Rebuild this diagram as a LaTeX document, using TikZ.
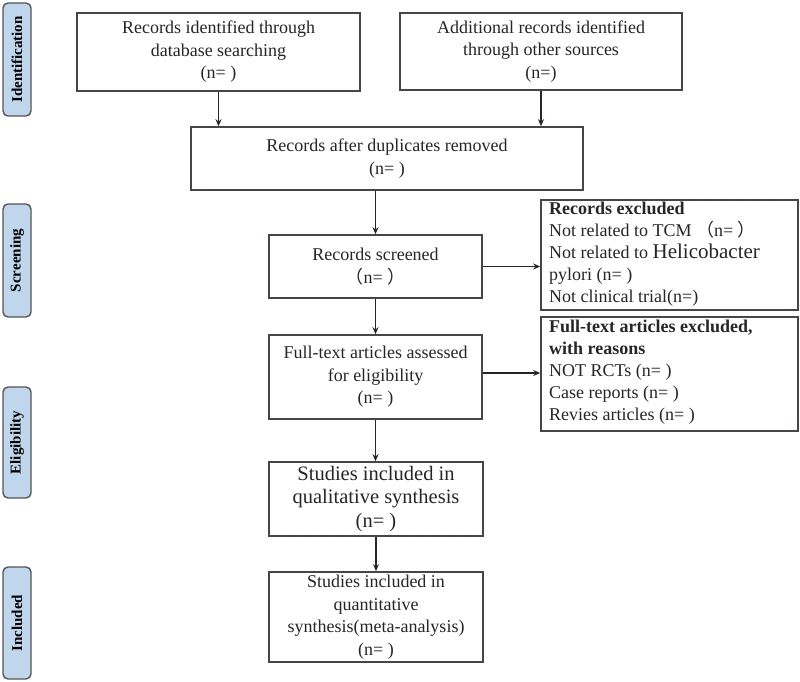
\documentclass[tikz,border=0pt]{standalone}
\usepackage{fontspec}
\setmainfont{Liberation Serif}
\newfontfamily\cjk{Noto Sans CJK SC}
\usetikzlibrary{arrows.meta}
\definecolor{boxline}{HTML}{4A4443}
\definecolor{sidefill}{HTML}{BFD6EC}
\definecolor{sideline}{HTML}{555555}
\tikzset{
  x=1pt,y=1pt,
  box/.style={draw=boxline, line width=1.6pt, fill=white, align=center, inner sep=2pt,
    font=\fontsize{18}{22.5}\selectfont, text=black!85},
  side/.style={draw=sideline, line width=1.4pt, fill=sidefill, rounded corners=5pt,
    rotate=90, font=\fontsize{15}{16}\selectfont\bfseries, inner sep=0pt},
  arr/.style={-{Stealth[length=7pt,width=6pt]}, line width=1.6pt, draw=black!85},
  extext/.style={anchor=north west, align=left, inner sep=0pt, text=black!85,
    font=\fontsize{18}{22}\selectfont},
}
\newcommand{\lp}{{\cjk （}}
\newcommand{\rp}{{\cjk ）}}
\begin{document}
\begin{tikzpicture}
\useasboundingbox (0,0) rectangle (800,-682);
% side labels
\node[side, minimum width=113pt, minimum height=28pt] (sid) at (17,-59.5) {Identification};
\node[side, minimum width=113pt, minimum height=28pt] (ssc) at (17,-260.5) {Screening};
\node[side, minimum width=111pt, minimum height=28pt] (sel) at (17,-442.5) {Eligibility};
\node[side, minimum width=112pt, minimum height=28pt] (sin) at (17,-623) {Included};
% main boxes
\node[box, minimum width=283pt, minimum height=78pt] (b1) at (218.5,-52)
  {Records identified through\\database searching\\(n= )};
\node[box, minimum width=282pt, minimum height=77pt] (b2) at (541,-51.5)
  {Additional records identified\\through other sources\\(n=)};
\node[box, minimum width=392pt, minimum height=63pt] (b3) at (387,-158.5)
  {Records after duplicates removed\\(n= )};
\node[box, minimum width=213pt, minimum height=63pt] (sc) at (375.5,-266.5)
  {Records screened\\\lp n= \rp};
\node[box, minimum width=213pt, minimum height=84pt] (ft) at (375.5,-377)
  {Full-text articles assessed\\for eligibility\\(n= )};
\node[box, minimum width=214pt, minimum height=74pt, font=\fontsize{20.5}{23.5}\selectfont] (ql) at (376,-499)
  {Studies included in\\qualitative synthesis\\(n= )};
\node[box, minimum width=214pt, minimum height=90pt] (qn) at (376,-617)
  {Studies included in\\quantitative\\synthesis(meta-analysis)\\(n= )};
% exclusion boxes
\node[box, minimum width=257pt, minimum height=110pt] (ex1) at (669.5,-255) {};
\node[extext] (ex1t) at (549,-202)
  {\textbf{Records excluded}\\Not related to TCM \lp n= \rp\\Not related to {\fontsize{21}{22}\selectfont Helicobacter}\\pylori (n= )\\Not clinical trial(n=)};
\node[box, minimum width=257pt, minimum height=114pt] (ex2) at (669.5,-374) {};
\node[extext] (ex2t) at (549,-320)
  {\textbf{Full-text articles excluded,}\\\textbf{with reasons}\\NOT RCTs (n= )\\Case reports (n= )\\Revies articles (n= )};
% connectors
\draw[arr] (b1.south) -- (b1.south |- b3.north);
\draw[arr] (b2.south) -- (b2.south |- b3.north);
\draw[arr] (sc.north |- b3.south) -- (sc.north);
\draw[arr] (sc.south) -- (ft.north);
\draw[arr] (ft.south) -- (ql.north -| ft.south);
\draw[arr] (ql.south) -- (qn.north);
\draw[arr] (sc.east) -- (sc.east -| ex1.west);
\draw[arr] ([yshift=4pt]ft.east) -- ([yshift=4pt]ft.east -| ex2.west);
\end{tikzpicture}
\end{document}
